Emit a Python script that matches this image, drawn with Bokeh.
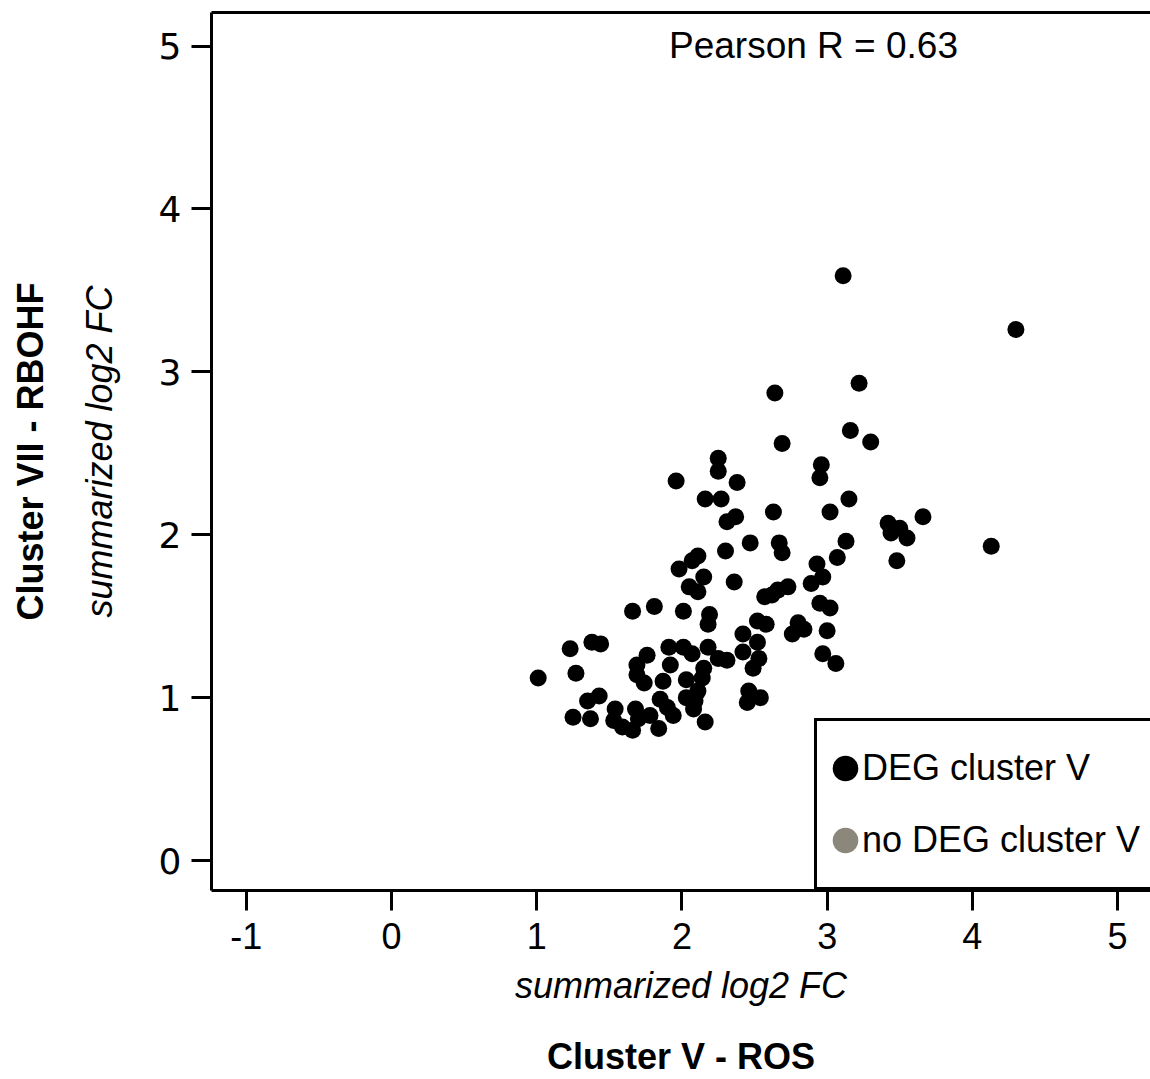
from bokeh.plotting import figure
from bokeh.models import (LinearAxis, FixedTicker, Range1d, Legend, LegendItem,
                          Label, ColumnDataSource)
from bokeh.embed import file_html
from bokeh.resources import INLINE

# ---- data ----
deg_x = [3.11, 4.30, 3.22, 2.64, 3.16, 3.30, 2.69, 2.25, 2.25, 2.96,
         2.95, 1.96, 2.38, 2.16, 2.27, 3.15, 2.63, 3.02, 3.66, 2.37,
         2.31, 3.42, 3.50, 3.44, 3.55, 2.47, 2.67, 3.13, 2.69, 2.30,
         4.13, 2.11, 2.07, 3.07, 3.48, 1.98, 2.93, 2.15, 2.36, 2.97,
         2.89, 2.05, 2.11, 2.73, 2.66, 2.62, 2.57, 2.95, 3.02, 1.66,
         1.81, 2.01, 2.19, 2.18, 2.52, 2.58, 2.80, 2.84, 2.76, 3.00,
         2.42, 2.52, 2.01, 2.07, 2.18, 2.31, 2.25, 2.42, 2.53, 2.49,
         2.15, 2.14, 2.03, 2.11, 2.03, 2.09, 2.08, 2.16, 2.46, 2.54,
         2.45, 2.97, 3.06, 1.23, 1.38, 1.44, 1.91, 1.76, 1.01, 1.27,
         1.69, 1.69, 1.74, 1.92, 1.87, 1.43, 1.35, 1.25, 1.37, 1.54,
         1.53, 1.59, 1.68, 1.70, 1.78, 1.66, 1.85, 1.90, 1.94, 1.84]
deg_y = [3.59, 3.26, 2.93, 2.87, 2.64, 2.57, 2.56, 2.47, 2.39, 2.43,
         2.35, 2.33, 2.32, 2.22, 2.22, 2.22, 2.14, 2.14, 2.11, 2.11,
         2.08, 2.07, 2.04, 2.01, 1.98, 1.95, 1.95, 1.96, 1.89, 1.90,
         1.93, 1.87, 1.84, 1.86, 1.84, 1.79, 1.82, 1.74, 1.71, 1.74,
         1.70, 1.68, 1.65, 1.68, 1.66, 1.63, 1.62, 1.58, 1.55, 1.53,
         1.56, 1.53, 1.51, 1.45, 1.47, 1.45, 1.46, 1.42, 1.39, 1.41,
         1.39, 1.34, 1.31, 1.27, 1.31, 1.23, 1.24, 1.28, 1.24, 1.18,
         1.18, 1.12, 1.11, 1.04, 1.00, 0.98, 0.93, 0.85, 1.04, 1.00,
         0.97, 1.27, 1.21, 1.30, 1.34, 1.33, 1.31, 1.26, 1.12, 1.15,
         1.20, 1.14, 1.09, 1.20, 1.10, 1.01, 0.98, 0.88, 0.87, 0.93,
         0.86, 0.82, 0.93, 0.87, 0.89, 0.80, 0.99, 0.94, 0.89, 0.81]
# no non-DEG genes are visible in the picture
nodeg_x = [float("nan")]
nodeg_y = [float("nan")]
x_ticks = [-1, 0, 1, 2, 3, 4, 5]
y_ticks = [0, 1, 2, 3, 4, 5]
pearson_text = "Pearson R = 0.63"
legend_labels = ["DEG cluster V", "no DEG cluster V"]
x_title = "summarized log2 FC"
x_group = "Cluster V - ROS"
y_title = "summarized log2 FC"
y_group = "Cluster VII - RBOHF"

SANS = "Liberation Sans"
FS = "36px"
GRAY = "#8c877b"

p = figure(width=1150, height=1079, output_backend="svg", toolbar_location=None,
           x_range=Range1d(-1.24, 5.227), y_range=Range1d(-0.184, 5.206),
           x_axis_type=None, y_axis_type=None,
           min_border_left=211, min_border_right=0, min_border_top=12,
           min_border_bottom=189)
p.outline_line_color = None
p.xgrid.visible = False
p.ygrid.visible = False
p.background_fill_color = "white"
p.border_fill_color = "white"

def style_axis(ax):
    ax.axis_line_width = 3
    ax.axis_line_color = "black"
    ax.major_tick_line_width = 3
    ax.major_tick_line_color = "black"
    ax.major_tick_out = 20
    ax.major_tick_in = 0
    ax.minor_tick_line_color = None
    ax.major_label_text_color = "black"
    ax.axis_label_text_color = "black"

def label_only(ax):
    ax.axis_line_color = None
    ax.major_tick_line_color = None
    ax.minor_tick_line_color = None
    ax.major_label_text_font_size = "0px"
    ax.axis_label_text_color = "black"

# main x axis
xa = LinearAxis(ticker=FixedTicker(ticks=x_ticks), axis_label=x_title)
style_axis(xa)
xa.major_label_overrides = {t: str(t) for t in x_ticks}
xa.major_label_text_font = SANS
xa.major_label_text_font_size = FS
xa.major_label_standoff = 12
xa.axis_label_text_font = SANS
xa.axis_label_text_font_size = FS
xa.axis_label_text_font_style = "italic"
xa.axis_label_standoff = 13
p.add_layout(xa, "below")

xa2 = LinearAxis(ticker=FixedTicker(ticks=[]), axis_label=x_group)
label_only(xa2)
xa2.axis_label_text_font = SANS
xa2.axis_label_text_font_size = FS
xa2.axis_label_text_font_style = "bold"
xa2.axis_label_standoff = 27
p.add_layout(xa2, "below")

# main y axis
ya = LinearAxis(ticker=FixedTicker(ticks=y_ticks), axis_label=y_title)
style_axis(ya)
ya.major_label_text_font = "DejaVu Sans"
ya.major_label_text_font_size = FS
ya.major_label_standoff = 10
ya.axis_label_text_font = SANS
ya.axis_label_text_font_size = FS
ya.axis_label_text_font_style = "italic"
ya.axis_label_standoff = 36
p.add_layout(ya, "left")

ya2 = LinearAxis(ticker=FixedTicker(ticks=[]), axis_label=y_group)
label_only(ya2)
ya2.axis_label_text_font = SANS
ya2.axis_label_text_font_size = FS
ya2.axis_label_text_font_style = "bold"
ya2.axis_label_standoff = 25
p.add_layout(ya2, "left")

# top border
ta = LinearAxis(ticker=FixedTicker(ticks=[]))
ta.axis_line_width = 3
ta.axis_line_color = "black"
ta.major_tick_line_color = None
ta.minor_tick_line_color = None
ta.major_label_text_font_size = "0px"
ta.major_label_standoff = 0
p.add_layout(ta, "above")

src = ColumnDataSource(dict(x=deg_x, y=deg_y))
r_deg = p.scatter("x", "y", source=src, size=17, fill_color="black", line_color=None)
# legend swatches (no visible points): thick outline gives a larger key circle
r_deg_key = p.scatter("x", "y", source=ColumnDataSource(dict(x=nodeg_x, y=nodeg_y)),
                      size=17, fill_color="black", line_color="black", line_width=12)
src2 = ColumnDataSource(dict(x=nodeg_x, y=nodeg_y))
r_gray = p.scatter("x", "y", source=src2, size=17, fill_color=GRAY,
                   line_color=GRAY, line_width=12)

legend = Legend(items=[LegendItem(label=legend_labels[0], renderers=[r_deg, r_deg_key]),
                       LegendItem(label=legend_labels[1], renderers=[r_gray])],
                location=(603, 0), orientation="vertical")
legend.padding = 11
legend.margin = 0
legend.spacing = 0
legend.glyph_width = 34
legend.glyph_height = 72
legend.label_height = 72
legend.label_standoff = 0
legend.label_text_font = SANS
legend.label_text_font_size = FS
legend.label_text_color = "black"
legend.border_line_color = "black"
legend.border_line_alpha = 1.0
legend.border_line_width = 3
legend.background_fill_color = "white"
legend.background_fill_alpha = 1.0
p.add_layout(legend, "center")

lab = Label(x=602, y=845, x_units="screen", y_units="screen", text=pearson_text,
            text_font=SANS, text_font_size="37px", text_align="center",
            text_baseline="middle", text_color="black")
p.add_layout(lab)

open("out.html", "w").write(file_html(p, INLINE))
